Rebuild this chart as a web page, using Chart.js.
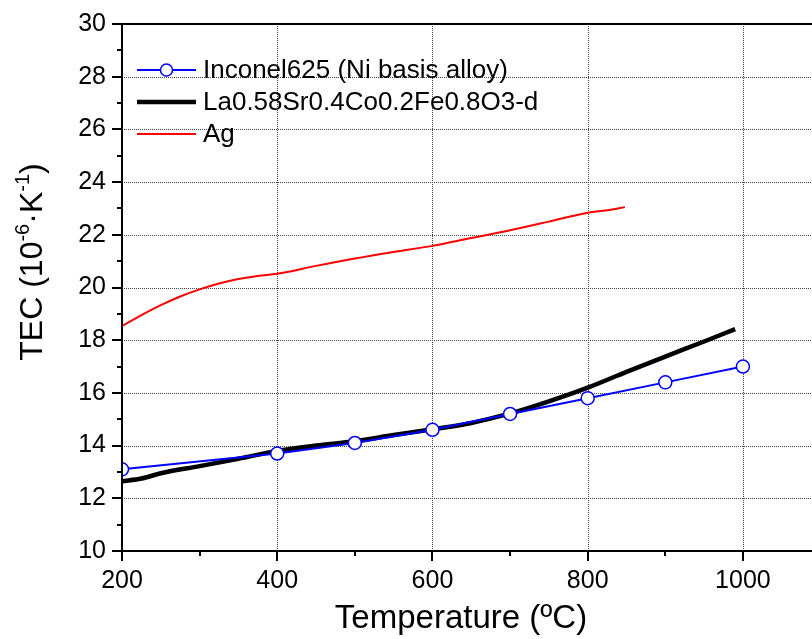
<!DOCTYPE html>
<html>
<head>
<meta charset="utf-8">
<script src="https://cdn.jsdelivr.net/npm/chart.js@4/dist/chart.umd.min.js"></script>
<style>
  html, body { margin: 0; padding: 0; background: #fff; overflow: hidden; }
  #wrap { width: 812px; height: 639px; }
</style>
</head>
<body>
<div id="wrap"><canvas id="tec-chart" width="812" height="639"></canvas></div>
<script>
'use strict';

// dados
const inconelT = [200, 400, 500, 600, 700, 800, 900, 1000];
const inconelTEC = [13.1, 13.7, 14.1, 14.6, 15.2, 15.8, 16.4, 17.0];

const lscfT = [200, 225, 250, 300, 350, 400, 450, 500, 550, 600, 650, 700, 750, 800, 850, 900, 950, 990];
const lscfTEC = [12.65, 12.75, 12.95, 13.22, 13.5, 13.8, 14.0, 14.17, 14.4, 14.62, 14.86, 15.22, 15.68, 16.2, 16.8, 17.38, 17.95, 18.42];

const agT = [200, 225, 250, 275, 300, 325, 350, 375, 400, 450, 500, 550, 600, 650, 700, 750, 800, 825, 848];
const agTEC = [18.54, 18.95, 19.33, 19.66, 19.93, 20.15, 20.32, 20.44, 20.52, 20.82, 21.1, 21.35, 21.58, 21.88, 22.17, 22.5, 22.84, 22.93, 23.05];

const seriesLabels = ['Inconel625 (Ni basis alloy)', 'La0.58Sr0.4Co0.2Fe0.8O3-d', 'Ag'];

const xMajorTicks = [200, 400, 600, 800, 1000];
const xMinorTicks = [300, 500, 700, 900];
const yMajorTicks = [10, 12, 14, 16, 18, 20, 22, 24, 26, 28, 30];
const yMinorTicks = [11, 13, 15, 17, 19, 21, 23, 25, 27, 29];

const FONT = '"Liberation Sans", Arial, sans-serif';

const toPoints = (xs, ys) => xs.map((x, i) => ({ x, y: ys[i] }));

// grelha pontilhada, ticks para fora, moldura, legenda e títulos
const framePlugin = {
    id: 'frame',
    beforeDatasetsDraw(chart) {
        const { ctx, chartArea: a, scales } = chart;
        ctx.save();
        ctx.strokeStyle = '#444';
        ctx.lineWidth = 1;
        ctx.setLineDash([1, 1]);
        xMajorTicks.slice(1).forEach(v => {
            const p = Math.round(scales.x.getPixelForValue(v)) + 0.5;
            ctx.beginPath(); ctx.moveTo(p, a.top); ctx.lineTo(p, a.bottom); ctx.stroke();
        });
        yMajorTicks.slice(1, -1).forEach(v => {
            const p = Math.round(scales.y.getPixelForValue(v)) + 0.5;
            ctx.beginPath(); ctx.moveTo(a.left, p); ctx.lineTo(a.right, p); ctx.stroke();
        });
        ctx.restore();
    },
    afterDatasetsDraw(chart) {
        const { ctx, chartArea: a, scales } = chart;
        ctx.save();
        ctx.strokeStyle = '#000';
        ctx.lineWidth = 2;
        // moldura: topo, eixo y e eixo x por cima das séries
        ctx.beginPath();
        ctx.moveTo(a.right, a.top);
        ctx.lineTo(a.left, a.top);
        ctx.lineTo(a.left, a.bottom);
        ctx.lineTo(a.right, a.bottom);
        ctx.stroke();

        const tick = (x1, y1, x2, y2) => { ctx.beginPath(); ctx.moveTo(x1, y1); ctx.lineTo(x2, y2); ctx.stroke(); };
        xMajorTicks.forEach(v => { const p = Math.round(scales.x.getPixelForValue(v)); tick(p, a.bottom, p, a.bottom + 10); });
        xMinorTicks.forEach(v => { const p = Math.round(scales.x.getPixelForValue(v)); tick(p, a.bottom, p, a.bottom + 5); });
        yMajorTicks.forEach(v => { const p = Math.round(scales.y.getPixelForValue(v)); tick(a.left - 10, p, a.left, p); });
        yMinorTicks.forEach(v => { const p = Math.round(scales.y.getPixelForValue(v)); tick(a.left - 5, p, a.left, p); });
        ctx.restore();
    },
    afterDraw(chart) {
        const { ctx } = chart;
        ctx.save();

        // legenda
        const rows = [70, 102, 134];
        chart.data.datasets.forEach((ds, i) => {
            const y = rows[i];
            ctx.strokeStyle = ds.borderColor;
            ctx.lineWidth = ds.borderWidth;
            ctx.beginPath();
            ctx.moveTo(137, y);
            ctx.lineTo(196, y);
            ctx.stroke();
            if (ds.pointRadius > 0) {
                ctx.beginPath();
                ctx.arc(166.5, y, 6, 0, Math.PI * 2);
                ctx.fillStyle = '#fff';
                ctx.fill();
                ctx.lineWidth = ds.pointBorderWidth;
                ctx.strokeStyle = ds.pointBorderColor;
                ctx.stroke();
            }
            ctx.fillStyle = '#000';
            ctx.font = `26px ${FONT}`;
            ctx.textBaseline = 'middle';
            ctx.textAlign = 'left';
            ctx.fillText(ds.label, 203, y + 1);
        });

        // título eixo x
        ctx.font = `33px ${FONT}`;
        ctx.textAlign = 'center';
        ctx.textBaseline = 'alphabetic';
        ctx.fillText('Temperature (ºC)', 461, 628);

        // título eixo y com expoentes
        const parts = [
            { t: 'TEC (10', sup: false },
            { t: '-6', sup: true },
            { t: '·K', sup: false },
            { t: '-1', sup: true },
            { t: ')', sup: false }
        ];
        const mainFont = `32px ${FONT}`;
        const supFont = `20px ${FONT}`;
        let total = 0;
        parts.forEach(p => { ctx.font = p.sup ? supFont : mainFont; p.w = ctx.measureText(p.t).width; total += p.w; });
        ctx.translate(42, 262);
        ctx.rotate(-Math.PI / 2);
        ctx.textAlign = 'left';
        let cx = -total / 2;
        parts.forEach(p => {
            ctx.font = p.sup ? supFont : mainFont;
            ctx.fillText(p.t, cx, p.sup ? -13 : 0);
            cx += p.w;
        });
        ctx.restore();
    }
};

const noPadding = (s) => { s.paddingLeft = 0; s.paddingRight = 0; s.paddingTop = 0; s.paddingBottom = 0; };

new Chart(document.getElementById('tec-chart'), {
    type: 'line',
    data: {
        datasets: [
            {
                label: seriesLabels[0],
                data: toPoints(inconelT, inconelTEC),
                borderColor: '#0000ff',
                borderWidth: 2,
                pointRadius: 6.5,
                pointBackgroundColor: '#fff',
                pointBorderColor: '#0000ff',
                pointBorderWidth: 1.5,
                tension: 0,
                clip: { left: 0, top: 0, right: 0, bottom: 0 }
            },
            {
                label: seriesLabels[1],
                data: toPoints(lscfT, lscfTEC),
                borderColor: '#000',
                borderWidth: 4.5,
                pointRadius: 0,
                cubicInterpolationMode: 'monotone'
            },
            {
                label: seriesLabels[2],
                data: toPoints(agT, agTEC),
                borderColor: '#ff0000',
                borderWidth: 2,
                pointRadius: 0,
                cubicInterpolationMode: 'monotone'
            }
        ]
    },
    options: {
        responsive: false,
        animation: false,
        layout: { autoPadding: false, padding: { top: 24, right: 0, left: 0, bottom: 0 } },
        plugins: { legend: { display: false }, tooltip: { enabled: false } },
        scales: {
            x: {
                type: 'linear',
                min: 200,
                max: 1089,
                afterBuildTicks: (s) => { s.ticks = xMajorTicks.map(v => ({ value: v })); },
                afterFit: (s) => { s.height = 88; noPadding(s); },
                grid: { display: false, drawTicks: false },
                border: { display: true, color: '#000', width: 2 },
                ticks: { color: '#000', padding: 15, font: { family: FONT, size: 25 }, callback: (v) => String(v) }
            },
            y: {
                min: 10,
                max: 30,
                afterBuildTicks: (s) => { s.ticks = yMajorTicks.map(v => ({ value: v })); },
                afterFit: (s) => { s.width = 122; noPadding(s); },
                grid: { display: false, drawTicks: false },
                border: { display: true, color: '#000', width: 2 },
                ticks: { color: '#000', padding: 16, font: { family: FONT, size: 25 }, callback: (v) => String(v) }
            }
        }
    },
    plugins: [framePlugin]
});
</script>
</body>
</html>
